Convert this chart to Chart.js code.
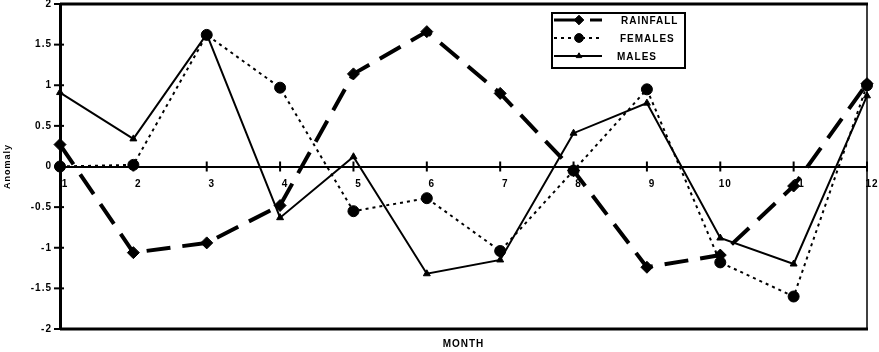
<!DOCTYPE html>
<html><head><meta charset="utf-8">
<script src="https://cdn.jsdelivr.net/npm/chart.js@4/dist/chart.umd.min.js"></script>
<style>html,body{margin:0;padding:0;background:#fff}#wrap{width:879px;height:352px}</style>
</head><body><div id="wrap"><canvas id="c" width="879" height="352"></canvas></div>
<script>
const months = [1,2,3,4,5,6,7,8,9,10,11,12];
const rainfall = [0.27,-1.06,-0.94,-0.48,1.14,1.66,0.9,-0.05,-1.24,-1.09,-0.24,1.02];
const females = [0.0,0.02,1.62,0.97,-0.55,-0.39,-1.04,-0.05,0.95,-1.18,-1.6,1.0];
const males = [0.91,0.34,1.63,-0.63,0.12,-1.32,-1.15,0.41,0.78,-0.88,-1.2,0.87];
const yTicks = [-2,-1.5,-1,-0.5,0,0.5,1,1.5,2];
const seriesNames = ['RAINFALL','FEMALES','MALES'];
const axisTitles = {x:'MONTH', y:'Anomaly'};

Chart.defaults.font.family = "'Liberation Sans', Arial, sans-serif";
Chart.defaults.color = '#000';

const toXY = arr => arr.map((v,i)=>({x:months[i], y:v}));
const noPad = () => ({left:0, top:0, right:0, bottom:0});

const deco = {
  id:'deco',
  beforeDraw(chart){
    chart.ctx.letterSpacing = '1px';
  },
  beforeDatasetsDraw(chart){
    const {ctx, chartArea:a, scales:{x,y}} = chart;
    ctx.save();
    ctx.strokeStyle='#000';
    ctx.lineWidth=3;
    ctx.beginPath(); ctx.moveTo(a.left, a.top); ctx.lineTo(a.right+1, a.top); ctx.stroke();
    ctx.beginPath(); ctx.moveTo(a.left, a.bottom); ctx.lineTo(a.right+1, a.bottom); ctx.stroke();
    ctx.lineWidth=1.5;
    ctx.beginPath(); ctx.moveTo(a.right, a.top); ctx.lineTo(a.right, a.bottom); ctx.stroke();
    ctx.lineWidth=2;
    yTicks.forEach(v=>{const py=y.getPixelForValue(v); ctx.beginPath(); ctx.moveTo(a.left-6,py); ctx.lineTo(a.left+4,py); ctx.stroke();});
    const py0=y.getPixelForValue(0);
    months.forEach(m=>{ if(m===1) return; const px=x.getPixelForValue(m); ctx.beginPath(); ctx.moveTo(px,py0-5); ctx.lineTo(px,py0+5); ctx.stroke();});
    ctx.restore();
  },
  afterDraw(chart){
    const ctx = chart.ctx;
    ctx.save();
    ctx.fillStyle='#fff';
    ctx.fillRect(552,13,133,55);
    ctx.strokeStyle='#000'; ctx.lineWidth=2;
    ctx.strokeRect(552,13,133,55);
    const rows = [20,38,56];
    const textX = [621,620,617];
    chart.data.datasets.forEach((ds,i)=>{
      const yy = rows[i];
      ctx.save();
      ctx.strokeStyle='#000';
      ctx.lineWidth = Math.min(ds.borderWidth, 3);
      ctx.setLineDash(ds.borderDash || []);
      ctx.beginPath(); ctx.moveTo(554,yy); ctx.lineTo(602,yy); ctx.stroke();
      ctx.setLineDash([]);
      ctx.fillStyle = ds.pointBackgroundColor; ctx.strokeStyle='#000'; ctx.lineWidth = ds.pointBorderWidth;
      Chart.helpers.drawPoint(ctx, {pointStyle: ds.pointStyle, radius: ds.pointRadius*0.8, rotation:0, borderWidth: ds.pointBorderWidth}, 579, yy);
      ctx.restore();
      ctx.fillStyle='#000';
      ctx.font = "bold 10px 'Liberation Sans', Arial, sans-serif";
      ctx.letterSpacing = '1px';
      ctx.textBaseline='middle'; ctx.textAlign='left';
      ctx.fillText(ds.label, textX[i], yy+1);
    });
    ctx.restore();
  }
};

new Chart(document.getElementById('c'), {
  type:'line',
  data:{
    datasets:[
      {label:seriesNames[0], data:toXY(rainfall), borderColor:'#000', borderWidth:4, borderDash:[24,12],
       pointStyle:'rectRot', pointRadius:6, pointBackgroundColor:'#000', pointBorderColor:'#000', pointBorderWidth:1, clip:false, order:1, tension:0},
      {label:seriesNames[1], data:toXY(females), borderColor:'#000', borderWidth:2, borderDash:[3,4],
       pointStyle:'circle', pointRadius:5.5, pointBackgroundColor:'#000', pointBorderColor:'#000', pointBorderWidth:1, clip:false, order:2, tension:0},
      {label:seriesNames[2], data:toXY(males), borderColor:'#000', borderWidth:2,
       pointStyle:'triangle', pointRadius:4, pointBackgroundColor:'#000', pointBorderColor:'#000', pointBorderWidth:1, clip:false, order:3, tension:0}
    ]
  },
  options:{
    responsive:false, animation:false, devicePixelRatio:1,
    layout:{autoPadding:false, padding:{left:0, top:4, right:12, bottom:0}},
    plugins:{
      legend:{display:false}, tooltip:{enabled:false},
      title:{display:true, position:'bottom', fullSize:false, text:axisTitles.x, font:{size:10, weight:'bold'}, padding:{top:9, bottom:2}, color:'#000'}
    },
    scales:{
      x:{type:'linear', position:{y:0}, min:1, max:12,
         afterFit(s){ s.getPadding = noPad; },
         ticks:{stepSize:1, padding:12, labelOffset:5, font:{size:10, weight:'bold'}, color:'#000', maxRotation:0, autoSkip:false},
         grid:{display:true, drawOnChartArea:false, drawTicks:false},
         border:{display:true, width:2, color:'#000'}},
      y:{min:-2, max:2,
         afterFit(s){ s.width = 60; s.getPadding = noPad; },
         afterBuildTicks(s){ s.ticks = yTicks.slice().map(v=>({value:v})); },
         ticks:{padding:8, font:{size:10, weight:'bold'}, color:'#000', callback:v=>String(v)},
         grid:{display:true, drawOnChartArea:false, drawTicks:false},
         border:{display:true, width:3, color:'#000'},
         title:{display:true, text:axisTitles.y, font:{size:9, weight:'bold'}, padding:{top:2, bottom:0}, color:'#000'}}
    }
  },
  plugins:[deco]
});
</script></body></html>
